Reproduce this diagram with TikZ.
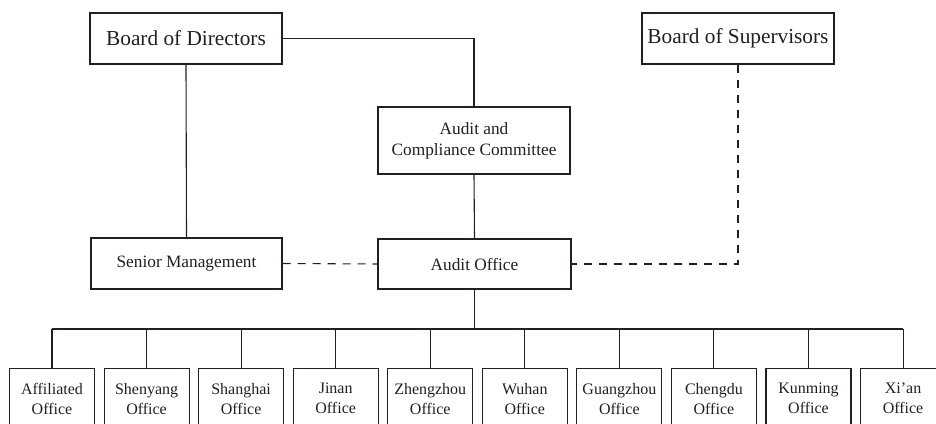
\documentclass[tikz,border=0pt]{standalone}
\usepackage{fontspec}
\setmainfont{Liberation Serif}
\definecolor{ink}{HTML}{231F20}
\begin{document}
\begin{tikzpicture}[x=1pt,y=-1pt, line width=1.1pt, draw=ink, text=ink,
 box/.style={draw=ink, rectangle, inner sep=0pt, align=center},
 big/.style={box, font=\fontsize{21.3}{25}\selectfont, minimum width=192pt, minimum height=51pt},
 mid/.style={box, font=\fontsize{17.3}{21}\selectfont},
 office/.style={box, font=\fontsize{16}{20}\selectfont, minimum width=85pt, minimum height=60pt, anchor=north},
 dashline/.style={dash pattern=on 8pt off 7pt}]
\useasboundingbox (0,0) rectangle (936,423);
\clip (0,0) rectangle (936,423);
\node[big] (bod) at (186,38.5) {Board of Directors};
\node[big] (bos) at (738,38.5) {Board of Supervisors};
\node[mid, minimum width=192pt, minimum height=67pt] (acc) at (474,140.5) {Audit and\\Compliance Committee};
\node[mid, minimum width=193pt, minimum height=50pt] (ao) at (474.5,264) {Audit Office};
\node[mid, minimum width=191pt, minimum height=51pt] (sm) at (186.5,263.5) {Senior Management};
\coordinate (bus) at (474.5,329);
\foreach \i/\t in {0/Affiliated,1/Shenyang,2/Shanghai,3/Jinan,4/Zhengzhou,5/Wuhan,6/Guangzhou,7/Chengdu,8/Kunming,9/Xi’an}
  \node[office] (o\i) at ({52+\i*94.56},368) {\t\\Office};
\draw (bod.east) -| (acc.north);
\draw (bod.south) -- (sm.north);
\draw (acc.south) -- (ao.north);
\draw[dashline] (sm.east) -- (ao.west);
\draw[dashline] (bos.south) |- (ao.east);
\draw (ao.south) -- (bus);
\draw (o0.north |- bus) -- (o9.north |- bus);
\foreach \i in {0,...,9} \draw (o\i.north |- bus) -- (o\i.north);
\end{tikzpicture}
\end{document}
